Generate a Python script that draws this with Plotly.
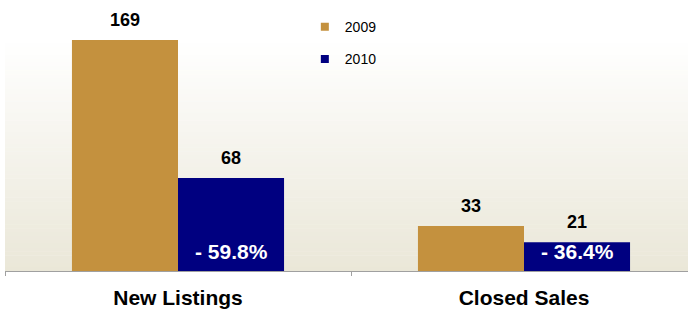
import plotly.graph_objects as go

categories = ["New Listings", "Closed Sales"]
series_names = ["2009", "2010"]
values_2009 = [169, 33]
values_2010 = [68, 21]
colors = ["#C4913E", "#000080"]

pct_change = [(b - a) / a * 100 for a, b in zip(values_2009, values_2010)]
pct_labels = [f"- {abs(p):.1f}%" for p in pct_change]

FONT = "Liberation Sans, Arial, sans-serif"

fig = go.Figure()
for name, vals, col in zip(series_names, [values_2009, values_2010], colors):
    fig.add_trace(go.Bar(x=categories, y=vals, name=name, marker_color=col,
                         marker_line_width=0, showlegend=False, hoverinfo="x+y+name"))
# legend entries with small square markers
for i, (name, col) in enumerate(zip(series_names, colors)):
    fig.add_trace(go.Scatter(x=[None], y=[None], mode="markers", name=name,
                             legendgroup=name,
                             marker=dict(symbol="square", size=8, color=col)))

bar_w = 0.3065
offsets = [-bar_w / 2, bar_w / 2]
annotations = []
for s, vals in enumerate([values_2009, values_2010]):
    for i, v in enumerate(vals):
        annotations.append(dict(x=i + offsets[s], y=v, xref="x", yref="y", text=f"<b>{v}</b>",
                                showarrow=False, yanchor="middle", yshift=20,
                                font=dict(family=FONT, size=18, color="#000000")))
for i, t in enumerate(pct_labels):
    annotations.append(dict(x=i + offsets[1], y=0, xref="x", yref="y", text=f"<b>{t}</b>",
                            showarrow=False, yanchor="middle", yshift=20,
                            font=dict(family=FONT, size=21, color="#FFFFFF")))

# vertical gradient background (white top -> beige bottom)
shapes = []
n = 60
top = (255, 255, 255)
bot = (234, 231, 216)
for k in range(n):
    t = (k + 0.5) / n
    c = tuple(round(top[j] + (bot[j] - top[j]) * t) for j in range(3))
    shapes.append(dict(type="rect", xref="paper", yref="paper", x0=0, x1=1,
                       y0=1 - (k + 1) / n, y1=1 - k / n + 0.002, layer="below",
                       line_width=0, fillcolor=f"rgb{c}"))

fig.update_layout(
    width=688, height=311,
    margin=dict(l=5, r=0, t=40, b=40),
    paper_bgcolor="#FFFFFF", plot_bgcolor="#FFFFFF",
    barmode="group", bargap=0.387, bargroupgap=0,
    font=dict(family=FONT, color="#000000"),
    shapes=shapes, annotations=annotations,
    legend=dict(x=0.439, y=1.125, xanchor="left", yanchor="top",
                font=dict(family=FONT, size=14, color="#000000"),
                bgcolor="rgba(0,0,0,0)", tracegroupgap=11, itemwidth=30),
    xaxis=dict(type="category", range=[-0.5, 1.474], showgrid=False,
               showline=True, linecolor="#A0A0A0", linewidth=1,
               ticks="outside", tickson="boundaries", ticklen=4, tickcolor="#A0A0A0",
               tickfont=dict(family=FONT, size=21, color="#000000", weight="bold"),
               ticklabelstandoff=8),
    yaxis=dict(range=[0, 169], visible=False, showgrid=False, zeroline=False),
)

fig.write_html("out.html", config={"displayModeBar": False},
               post_script="document.body.style.margin='0px';")
